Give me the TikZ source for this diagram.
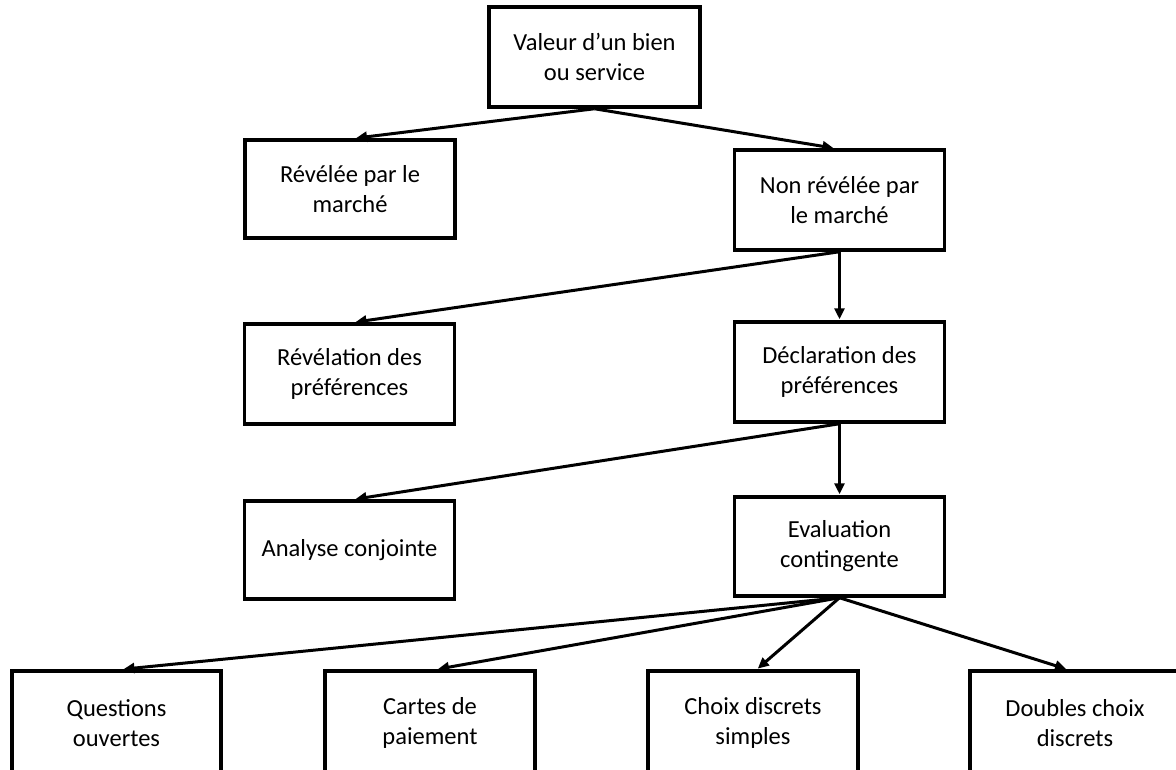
\documentclass[tikz,border=0pt]{standalone}
\usepackage{fontspec}
\setmainfont{Carlito}
\usetikzlibrary{arrows.meta}
\begin{document}
\begin{tikzpicture}[x=1pt,y=-1pt,
  box/.style={draw=black,line width=3.5pt,fill=white,rectangle,align=center,
    inner sep=0pt,font=\fontsize{24.5}{30}\selectfont},
  conn/.style={line width=3pt,-{Triangle[length=11pt,width=10pt]},shorten >=1pt}]
\useasboundingbox (0,0) rectangle (1176,769);
\clip (0,0) rectangle (1176,769);
\fill[white] (0,0) rectangle (1176,769);
\node[box,minimum width=211pt,minimum height=100pt] (top) at (594.5,57) {Valeur d’un bien\\ou service};
\node[box,minimum width=210pt,minimum height=98pt] (rev) at (350,189) {Révélée par le\\marché};
\node[box,minimum width=210pt,minimum height=100pt] (nonrev) at (839.5,200) {Non révélée par\\le marché};
\node[box,minimum width=210pt,minimum height=100pt] (revel) at (349.5,374) {Révélation des\\préférences};
\node[box,minimum width=210pt,minimum height=100pt] (decl) at (839.5,372) {Déclaration des\\préférences};
\node[box,minimum width=210pt,minimum height=98pt] (anal) at (349.5,550) {Analyse conjointe};
\node[box,minimum width=210pt,minimum height=99pt] (eval) at (839.5,546.5) {Evaluation\\contingente};
\node[box,minimum width=209pt,minimum height=104pt] (q) at (116.5,723) {Questions\\ouvertes};
\node[box,minimum width=210pt,minimum height=104pt] (c) at (430,723) {Cartes de\\paiement};
\node[box,minimum width=210pt,minimum height=104pt] (ch) at (753,723) {Choix discrets\\simples};
\node[box,minimum width=210pt,minimum height=104pt] (d) at (1075,723) {Doubles choix\\discrets};
\draw[conn] (top.south) -- ([xshift=5pt]rev.north);
\draw[conn] (top.south) -- ([xshift=-5pt]nonrev.north);
\draw[conn] (nonrev.south) -- ([xshift=5pt]revel.north);
\draw[conn] (nonrev.south) -- (decl.north);
\draw[conn] (decl.south) -- ([xshift=5pt]anal.north);
\draw[conn] (decl.south) -- (eval.north);
\draw[conn] (eval.south) -- ([xshift=6pt]q.north);
\draw[conn] (eval.south) -- ([xshift=7pt]c.north);
\draw[conn] (eval.south) -- ([xshift=4pt]ch.north);
\draw[conn] (eval.south) -- ([xshift=-8pt]d.north);
\end{tikzpicture}
\end{document}
